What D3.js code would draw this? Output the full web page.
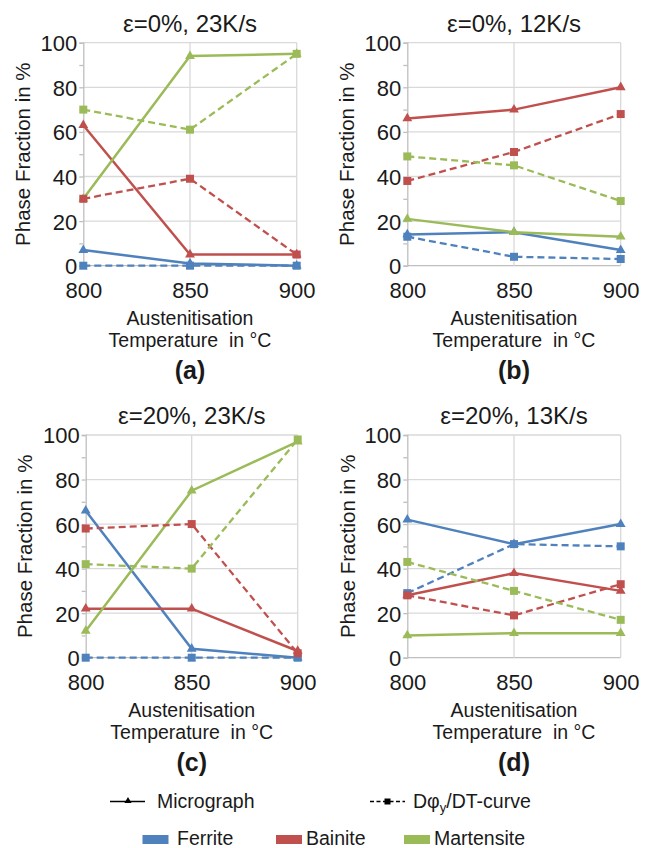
<!DOCTYPE html>
<html><head><meta charset="utf-8">
<script src="https://cdn.jsdelivr.net/npm/d3@7"></script>
<style>body{margin:0;background:#fff}svg{display:block;font-family:"Liberation Sans",Arial,sans-serif}</style>
</head><body><svg id="c" width="647" height="848"></svg>
<script>
const temperatures = ["800","850","900"];
const yTicks = [0,20,40,60,80,100];
const panelTitles = ["ε=0%, 23K/s","ε=0%, 12K/s","ε=20%, 23K/s","ε=20%, 13K/s"];
const panelLabels = ["(a)","(b)","(c)","(d)"];
const phases = ["Ferrite","Bainite","Martensite"];
const phaseColors = ["#4F81BD","#C0504D","#9BBB59"];
// per panel [a,b,c,d], values at 800/850/900
const ferriteMicrograph    = [[7,1,0],[14,15,7],[66,4,0],[62,51,60]];
const ferriteCurve         = [[0,0,0],[13,4,3],[0,0,0],[29,51,50]];
const bainiteMicrograph    = [[63,5,5],[66,70,80],[22,22,3],[28,38,30]];
const bainiteCurve         = [[30,39,5],[38,51,68],[58,60,2],[28,19,33]];
const martensiteMicrograph = [[30,94,95],[21,15,13],[12,75,97],[10,11,11]];
const martensiteCurve      = [[70,61,95],[49,45,29],[42,40,98],[43,30,17]];

const micro = [ferriteMicrograph,bainiteMicrograph,martensiteMicrograph];
const curve = [ferriteCurve,bainiteCurve,martensiteCurve];

const frames = [
  {x0:83.3,x1:296.7,y0:42.7,y1:265.7,ylab:23},
  {x0:407.3,x1:620.7,y0:42.7,y1:265.7,ylab:347},
  {x0:85.7,x1:297.7,y0:435,y1:657.7,ylab:25},
  {x0:407.3,x1:620.7,y0:435,y1:657.7,ylab:348}
];
const svg = d3.select("#c");
const grid = "#d9d9d9", axisCol = "#bfbfbf", txt = "#1a1a1a";
const FF = "Liberation Sans, Arial, sans-serif";
const tri = d3.symbol().type(d3.symbolTriangle).size(42);
const sq = d3.symbol().type(d3.symbolSquare).size(64);

frames.forEach((f,pi)=>{
  const x = d3.scalePoint().domain(temperatures).range([f.x0,f.x1]);
  const y = d3.scaleLinear().domain([0,100]).range([f.y1,f.y0]);
  const g = svg.append("g");
  g.selectAll(".hg").data(yTicks).join("line")
    .attr("x1",f.x0).attr("x2",f.x1).attr("y1",d=>y(d)).attr("y2",d=>y(d))
    .attr("stroke",d=>d===0?axisCol:grid).attr("stroke-width",1.3);
  g.selectAll(".vg").data(temperatures.slice(1)).join("line")
    .attr("x1",d=>x(d)).attr("x2",d=>x(d)).attr("y1",f.y0).attr("y2",f.y1)
    .attr("stroke",grid).attr("stroke-width",1.3);
  const ya = d3.axisLeft(y).tickValues(d3.range(0,101,10)).tickSize(4).tickFormat(d=>d%20===0?d:"");
  const ag = g.append("g").attr("transform",`translate(${f.x0},0)`).call(ya);
  ag.select(".domain").attr("stroke",axisCol).attr("stroke-width",1.3);
  ag.selectAll(".tick line").attr("stroke",axisCol).attr("stroke-width",1.3);
  ag.selectAll(".tick text").attr("font-size",22).attr("fill",txt).attr("font-family",FF).attr("x",-6).attr("dy","0.36em");
  const xa = d3.axisBottom(x).tickSize(0);
  const xg = g.append("g").attr("transform",`translate(0,${f.y1})`).call(xa);
  xg.select(".domain").remove();
  xg.selectAll(".tick text").attr("font-size",22).attr("fill",txt).attr("font-family",FF).attr("dy",0).attr("y",32);
  const cx = (f.x0+f.x1)/2;
  g.append("text").attr("x",cx).attr("y",f.y0-11).attr("text-anchor","middle").attr("font-size",24).attr("fill",txt).text(panelTitles[pi]);
  g.append("text").attr("x",cx).attr("y",f.y1+59).attr("text-anchor","middle").attr("font-size",19.5).attr("fill",txt).text("Austenitisation");
  g.append("text").attr("x",cx).attr("y",f.y1+81).attr("text-anchor","middle").attr("font-size",19.5).attr("fill",txt).attr("xml:space","preserve").text("Temperature  in °C");
  g.append("text").attr("x",cx).attr("y",f.y1+113).attr("text-anchor","middle").attr("font-size",25).attr("font-weight","bold").attr("fill",txt).text(panelLabels[pi]);
  g.append("text").attr("transform",`translate(${f.ylab+7},${(f.y0+f.y1)/2}) rotate(-90)`).attr("text-anchor","middle").attr("font-size",20.5).attr("fill",txt).text("Phase Fraction in %");

  const line = d3.line().x((d,i)=>x(temperatures[i])).y(d=>y(d));
  phases.forEach((p,k)=>{
    const vals = micro[k][pi];
    g.append("path").attr("d",line(vals)).attr("fill","none").attr("stroke",phaseColors[k]).attr("stroke-width",2.5);
    g.selectAll(null).data(vals).join("path").attr("d",tri)
      .attr("transform",(d,i)=>`translate(${x(temperatures[i])},${y(d)})`).attr("fill",phaseColors[k]);
  });
  phases.forEach((p,k)=>{
    const vals = curve[k][pi];
    g.append("path").attr("d",line(vals)).attr("fill","none").attr("stroke",phaseColors[k]).attr("stroke-width",2.3).attr("stroke-dasharray","7,4");
    g.selectAll(null).data(vals).join("path").attr("d",sq)
      .attr("transform",(d,i)=>`translate(${x(temperatures[i])},${y(d)})`).attr("fill",phaseColors[k]);
  });
});

const lg = svg.append("g");
lg.append("line").attr("x1",110).attr("x2",145).attr("y1",801.5).attr("y2",801.5).attr("stroke","#000").attr("stroke-width",1.5);
lg.append("path").attr("d",d3.symbol().type(d3.symbolTriangle).size(22)).attr("transform","translate(128,801)").attr("fill","#000");
lg.append("text").attr("x",157).attr("y",808).attr("font-size",19.5).attr("fill",txt).text("Micrograph");
lg.append("line").attr("x1",370).attr("x2",405).attr("y1",801.5).attr("y2",801.5).attr("stroke","#000").attr("stroke-width",1.5).attr("stroke-dasharray","4,2.5");
lg.append("path").attr("d",d3.symbol().type(d3.symbolSquare).size(36)).attr("transform","translate(387.5,801.5)").attr("fill","#000");
const ct = lg.append("text").attr("x",413).attr("y",808).attr("font-size",19.5).attr("fill",txt);
ct.append("tspan").text("Dφ");
ct.append("tspan").attr("font-size",13).attr("dy",4).text("y");
ct.append("tspan").attr("dy",-4).text("/DT-curve");
const legPos = [{rx:142.5,tx:177},{rx:276,tx:306},{rx:404,tx:434}];
phases.forEach((p,k)=>{
  lg.append("rect").attr("x",legPos[k].rx).attr("y",835).attr("width",26).attr("height",9).attr("fill",phaseColors[k]);
  lg.append("text").attr("x",legPos[k].tx).attr("y",845).attr("font-size",19.5).attr("fill",txt).text(p);
});
</script></body></html>
